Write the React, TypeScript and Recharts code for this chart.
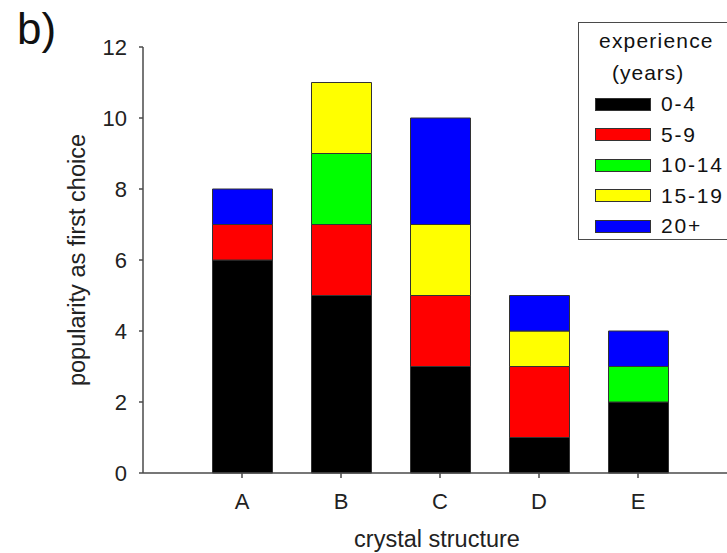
import { BarChart, Bar, XAxis, YAxis, Label } from "recharts";

const structures = ["A", "B", "C", "D", "E"];
const exp0to4 = [6, 5, 3, 1, 2];
const exp5to9 = [1, 2, 2, 2, 0];
const exp10to14 = [0, 2, 0, 0, 1];
const exp15to19 = [0, 2, 2, 1, 0];
const exp20plus = [1, 0, 3, 1, 1];

const seriesNames = ["0-4", "5-9", "10-14", "15-19", "20+"];
const seriesColors = ["#000000", "#ff0000", "#00ff00", "#ffff00", "#0000ff"];
const yTicks = [0, 2, 4, 6, 8, 10, 12];

const data = structures.map((s, i) => ({
  pos: i + 1,
  name: s,
  "0-4": exp0to4[i],
  "5-9": exp5to9[i],
  "10-14": exp10to14[i],
  "15-19": exp15to19[i],
  "20+": exp20plus[i],
}));

const FONT = "Arial, 'Liberation Sans', Helvetica, sans-serif";
const AXIS = "#4a4a4a";

// legend drawn as an overlay; its right edge is cut off by the window like the original
function LegendBox() {
  return (
    <div
      style={{
        position: "absolute",
        left: 578,
        top: 22,
        borderTop: `1.5px solid ${AXIS}`,
        borderLeft: `1.5px solid ${AXIS}`,
        borderBottom: `1.5px solid ${AXIS}`,
        background: "#fff",
        width: 160,
        height: 218,
        boxSizing: "border-box",
        fontFamily: FONT,
        color: "#111",
        fontSize: 21,
        paddingTop: 2,
        whiteSpace: "nowrap",
      }}
    >
      <div style={{ paddingLeft: 20, letterSpacing: 1.2, lineHeight: "32px" }}>experience</div>
      <div style={{ paddingLeft: 33, letterSpacing: 1, lineHeight: "32px" }}>(years)</div>
      {seriesNames.map((n, i) => (
        <div key={n} style={{ display: "flex", alignItems: "center", height: 30.5, paddingLeft: 16 }}>
          <span
            style={{
              display: "inline-block",
              width: 54,
              height: 11,
              background: seriesColors[i],
              border: "1px solid #333",
              marginRight: 10,
              flexShrink: 0,
            }}
          />
          <span style={{ letterSpacing: 1.8 }}>{n}</span>
        </div>
      ))}
    </div>
  );
}

export default function App() {
  return (
    <div style={{ position: "fixed", left: 0, top: 0, width: 727, height: 553, overflow: "hidden", background: "#fff" }}>
      <div style={{ position: "absolute", left: 17, top: 4, fontFamily: FONT, fontSize: 44, color: "#111" }}>b)</div>
      <BarChart
        width={737}
        height={553}
        data={data}
        margin={{ top: 47, right: 0, bottom: 20, left: 0 }}
        style={{ fontFamily: FONT }}
      >
        <XAxis
          dataKey="pos"
          type="number"
          domain={[0, 6]}
          ticks={[1, 2, 3, 4, 5]}
          tickFormatter={(v: number) => structures[v - 1]}
          height={60}
          tickSize={5}
          tickMargin={15}
          stroke={AXIS}
          strokeWidth={1.5}
          tick={{ fill: "#222", fontSize: 22 }}
          allowDataOverflow
        >
          <Label
            content={({ viewBox }: any) => (
              <text
                x={viewBox.x + viewBox.width / 2 - 3}
                y={547}
                textAnchor="middle"
                fontSize={23.5}
                fill="#222"
                fontFamily={FONT}
              >
                crystal structure
              </text>
            )}
          />
        </XAxis>
        <YAxis
          domain={[0, 12]}
          ticks={yTicks}
          width={143}
          tickSize={4}
          tickMargin={12}
          stroke={AXIS}
          strokeWidth={1.5}
          tick={{ fill: "#222", fontSize: 22 }}
        >
          <Label
            content={({ viewBox }: any) => (
              <text
                transform={`translate(85, ${viewBox.y + viewBox.height / 2}) rotate(-90)`}
                textAnchor="middle"
                fontSize={23.5}
                fill="#222"
                fontFamily={FONT}
              >
                popularity as first choice
              </text>
            )}
          />
        </YAxis>
        {seriesNames.map((n, i) => (
          <Bar
            key={n}
            dataKey={n}
            stackId="s"
            barSize={60}
            fill={seriesColors[i]}
            stroke="#333"
            strokeWidth={1}
            isAnimationActive={false}
          />
        ))}
      </BarChart>
      <LegendBox />
    </div>
  );
}
